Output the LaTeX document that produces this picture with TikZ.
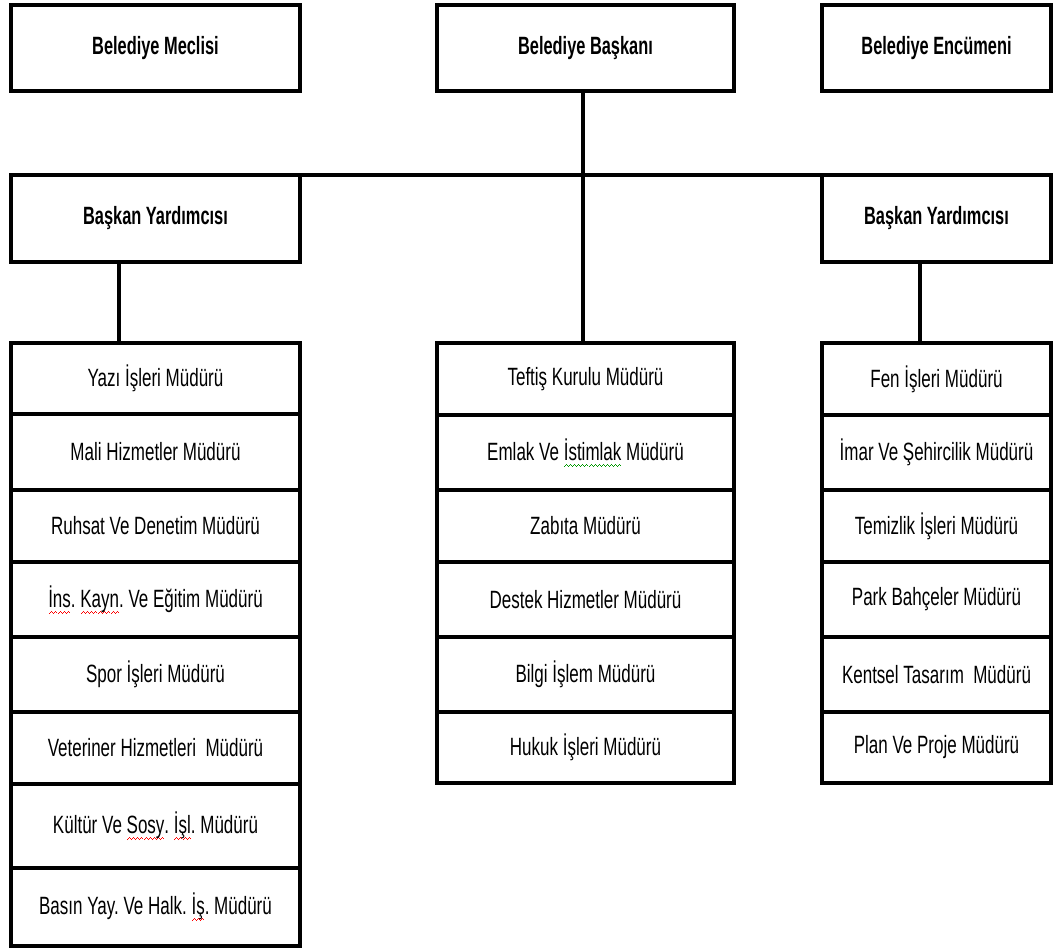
\documentclass[tikz,border=0pt]{standalone}
\usepackage{fontspec}
\setmainfont[FakeStretch=0.68, BoldFeatures={FakeStretch=0.655}]{Liberation Sans}
\frenchspacing
\newsavebox\wvbox
\newcommand\wvunit{\hbox{\rule[-6.5pt]{1pt}{1pt}\rule[-5.5pt]{1pt}{1pt}\rule[-4.5pt]{1pt}{1pt}\rule[-5.5pt]{1pt}{1pt}}}
\newcommand\wavy[2]{\sbox\wvbox{#2}\rlap{\textcolor{#1}{\xleaders\wvunit\hskip\wd\wvbox}}\usebox\wvbox}
\begin{document}
\begin{tikzpicture}[x=1pt,y=-1pt,
  box/.style={draw, line width=3.5pt, inner sep=0pt, outer sep=0pt, anchor=north west,
    font=\fontsize{25}{28}\selectfont},
  head/.style={box, font=\fontsize{25}{28}\selectfont\bfseries},
  link/.style={line width=4pt}]
\useasboundingbox (0,0) rectangle (1058,949);
% top row
\node[head, minimum width=289pt, minimum height=86pt] (meclis) at (11,5) {Belediye Meclisi};
\node[head, minimum width=297pt, minimum height=86pt] (baskan) at (437,5) {Belediye Başkanı};
\node[head, minimum width=229pt, minimum height=86pt] (encumen) at (822,5) {Belediye Encümeni};
% deputies
\node[head, minimum width=289pt, minimum height=87pt] (ly) at (11,175) {Başkan Yardımcısı};
\node[head, minimum width=229pt, minimum height=87pt] (ry) at (822,175) {Başkan Yardımcısı};
% left stack
\node[box, minimum width=289pt, minimum height=71pt] (l1) at (11,343) {Yazı İşleri Müdürü};
\node[box, minimum width=289pt, minimum height=76pt] (l2) at (11,414) {Mali Hizmetler Müdürü};
\node[box, minimum width=289pt, minimum height=72pt] (l3) at (11,490) {Ruhsat Ve Denetim Müdürü};
\node[box, minimum width=289pt, minimum height=75pt] (l4) at (11,562) {\wavy{red}{İns}. \wavy{red}{Kayn}. Ve Eğitim Müdürü};
\node[box, minimum width=289pt, minimum height=75pt] (l5) at (11,637) {Spor İşleri Müdürü};
\node[box, minimum width=289pt, minimum height=72pt] (l6) at (11,712) {Veteriner Hizmetleri\ \ Müdürü};
\node[box, minimum width=289pt, minimum height=84pt] (l7) at (11,784) {Kültür Ve \wavy{red}{Sosy}. \wavy{red}{İşl}. Müdürü};
\node[box, minimum width=289pt, minimum height=78pt] (l8) at (11,868) {Basın Yay. Ve Halk. \wavy{red}{İş}. Müdürü};
% middle stack
\node[box, minimum width=297pt, minimum height=72pt] (m1) at (437,343) {Teftiş Kurulu Müdürü};
\node[box, minimum width=297pt, minimum height=75pt] (m2) at (437,415) {Emlak Ve \wavy{green!60!black}{İstimlak} Müdürü};
\node[box, minimum width=297pt, minimum height=72pt] (m3) at (437,490) {Zabıta Müdürü};
\node[box, minimum width=297pt, minimum height=75pt] (m4) at (437,562) {Destek Hizmetler Müdürü};
\node[box, minimum width=297pt, minimum height=75pt] (m5) at (437,637) {Bilgi İşlem Müdürü};
\node[box, minimum width=297pt, minimum height=71pt] (m6) at (437,712) {Hukuk İşleri Müdürü};
% right stack
\node[box, minimum width=229pt, minimum height=72pt] (r1) at (822,343) {Fen İşleri Müdürü};
\node[box, minimum width=229pt, minimum height=75pt] (r2) at (822,415) {İmar Ve Şehircilik Müdürü};
\node[box, minimum width=229pt, minimum height=72pt] (r3) at (822,490) {Temizlik İşleri Müdürü};
\node[box, minimum width=229pt, minimum height=75pt] (r4) at (822,562) {Park Bahçeler Müdürü};
\node[box, minimum width=229pt, minimum height=75pt] (r5) at (822,637) {Kentsel Tasarım\ \ Müdürü};
\node[box, minimum width=229pt, minimum height=71pt] (r6) at (822,712) {Plan Ve Proje Müdürü};
% connectors
\coordinate (cm) at (583,0);
\coordinate (cl) at (119,0);
\coordinate (cr) at (920,0);
\draw[link] (ly.north west) -- (ry.north east);
\draw[link] (cm |- baskan.south) -- (cm |- m1.north);
\draw[link] (cl |- ly.south) -- (cl |- l1.north);
\draw[link] (cr |- ry.south) -- (cr |- r1.north);
\end{tikzpicture}
\end{document}
